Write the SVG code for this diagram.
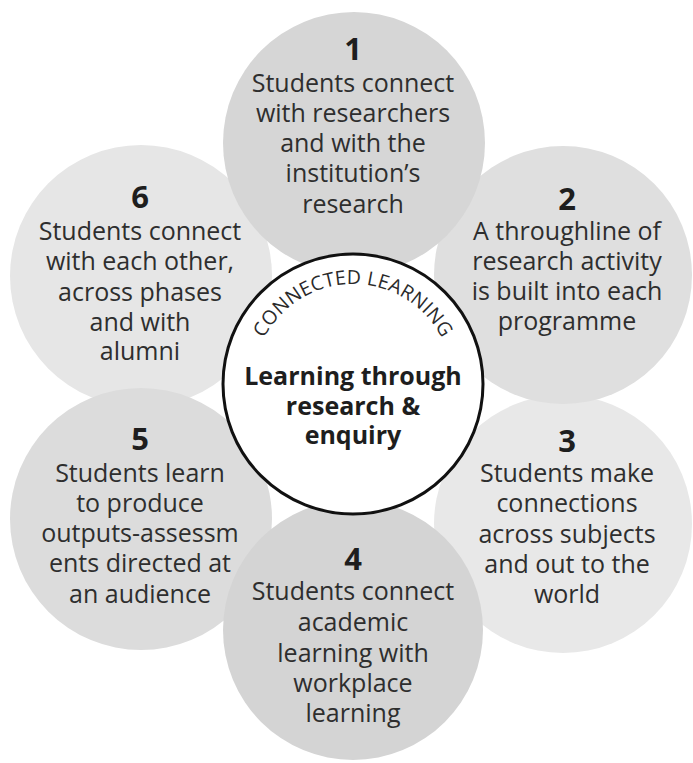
<svg xmlns="http://www.w3.org/2000/svg" width="693" height="763" viewBox="0 0 693 763">
  <defs>
    <style>
      .petal { stroke: none; }
      .num { font-family: "Open Sans", "Noto Sans", sans-serif; font-weight: 700; font-size: 31px; fill: #1e1e1e; text-anchor: middle; }
      .body { font-family: "Open Sans", "Noto Sans", sans-serif; font-size: 25px; fill: #2e2e2e; text-anchor: middle; }
      .core { font-family: "Open Sans", "Noto Sans", sans-serif; font-weight: 700; font-size: 25px; fill: #1e1e1e; text-anchor: middle; }
      .arc { font-family: "Open Sans", "Noto Sans", sans-serif; font-size: 19.5px; fill: #2a2a2a; letter-spacing: 0.2px; }
    </style>
    <path id="ringArc" d="M 253 384 A 100 100 0 0 1 453 384"/>
  </defs>
  <rect width="693" height="763" fill="#ffffff"/>

  <g id="node-6">
    <circle class="petal" cx="141" cy="276" r="131" fill="#e6e6e6"/>
    <text class="num" x="140" y="208">6</text>
    <text class="body" x="140" y="240">Students connect</text>
    <text class="body" x="140" y="270">with each other,</text>
    <text class="body" x="140" y="301">across phases</text>
    <text class="body" x="140" y="331">and with</text>
    <text class="body" x="140" y="360">alumni</text>
  </g>

  <g id="node-5">
    <circle class="petal" cx="141" cy="519" r="131" fill="#dcdcdc"/>
    <text class="num" x="140" y="450">5</text>
    <text class="body" x="140" y="482">Students learn</text>
    <text class="body" x="140" y="512">to produce</text>
    <text class="body" x="140" y="542">outputs-assessm</text>
    <text class="body" x="140" y="572">ents directed at</text>
    <text class="body" x="140" y="603">an audience</text>
  </g>

  <g id="node-3">
    <circle class="petal" cx="563" cy="524" r="129" fill="#e8e8e8"/>
    <text class="num" x="567" y="452">3</text>
    <text class="body" x="567" y="482">Students make</text>
    <text class="body" x="567" y="512">connections</text>
    <text class="body" x="567" y="543">across subjects</text>
    <text class="body" x="567" y="573">and out to the</text>
    <text class="body" x="567" y="603">world</text>
  </g>

  <g id="node-2">
    <circle class="petal" cx="563" cy="275" r="129" fill="#dfdfdf"/>
    <text class="num" x="567" y="210">2</text>
    <text class="body" x="567" y="240">A throughline of</text>
    <text class="body" x="567" y="270">research activity</text>
    <text class="body" x="567" y="300">is built into each</text>
    <text class="body" x="567" y="330">programme</text>
  </g>

  <g id="node-4">
    <circle class="petal" cx="353" cy="630" r="130" fill="#d4d4d4"/>
    <text class="num" x="353" y="570">4</text>
    <text class="body" x="353" y="600">Students connect</text>
    <text class="body" x="353" y="631">academic</text>
    <text class="body" x="353" y="662">learning with</text>
    <text class="body" x="353" y="692">workplace</text>
    <text class="body" x="353" y="722">learning</text>
  </g>

  <g id="node-1">
    <circle class="petal" cx="354" cy="143" r="131" fill="#d6d6d6"/>
    <text class="num" x="353" y="60">1</text>
    <text class="body" x="353" y="92">Students connect</text>
    <text class="body" x="353" y="122">with researchers</text>
    <text class="body" x="353" y="152">and with the</text>
    <text class="body" x="353" y="182">institution’s</text>
    <text class="body" x="353" y="213">research</text>
  </g>

  <g id="connectors"></g>

  <g id="hub">
    <circle cx="353" cy="384" r="130" fill="#ffffff" stroke="#111111" stroke-width="3"/>
    <text class="arc"><textPath href="#ringArc" startOffset="50%" text-anchor="middle">CONNECTED LEARNING</textPath></text>
    <text class="core" x="353" y="385">Learning through</text>
    <text class="core" x="353" y="415">research &amp;</text>
    <text class="core" x="353" y="444">enquiry</text>
  </g>
</svg>
